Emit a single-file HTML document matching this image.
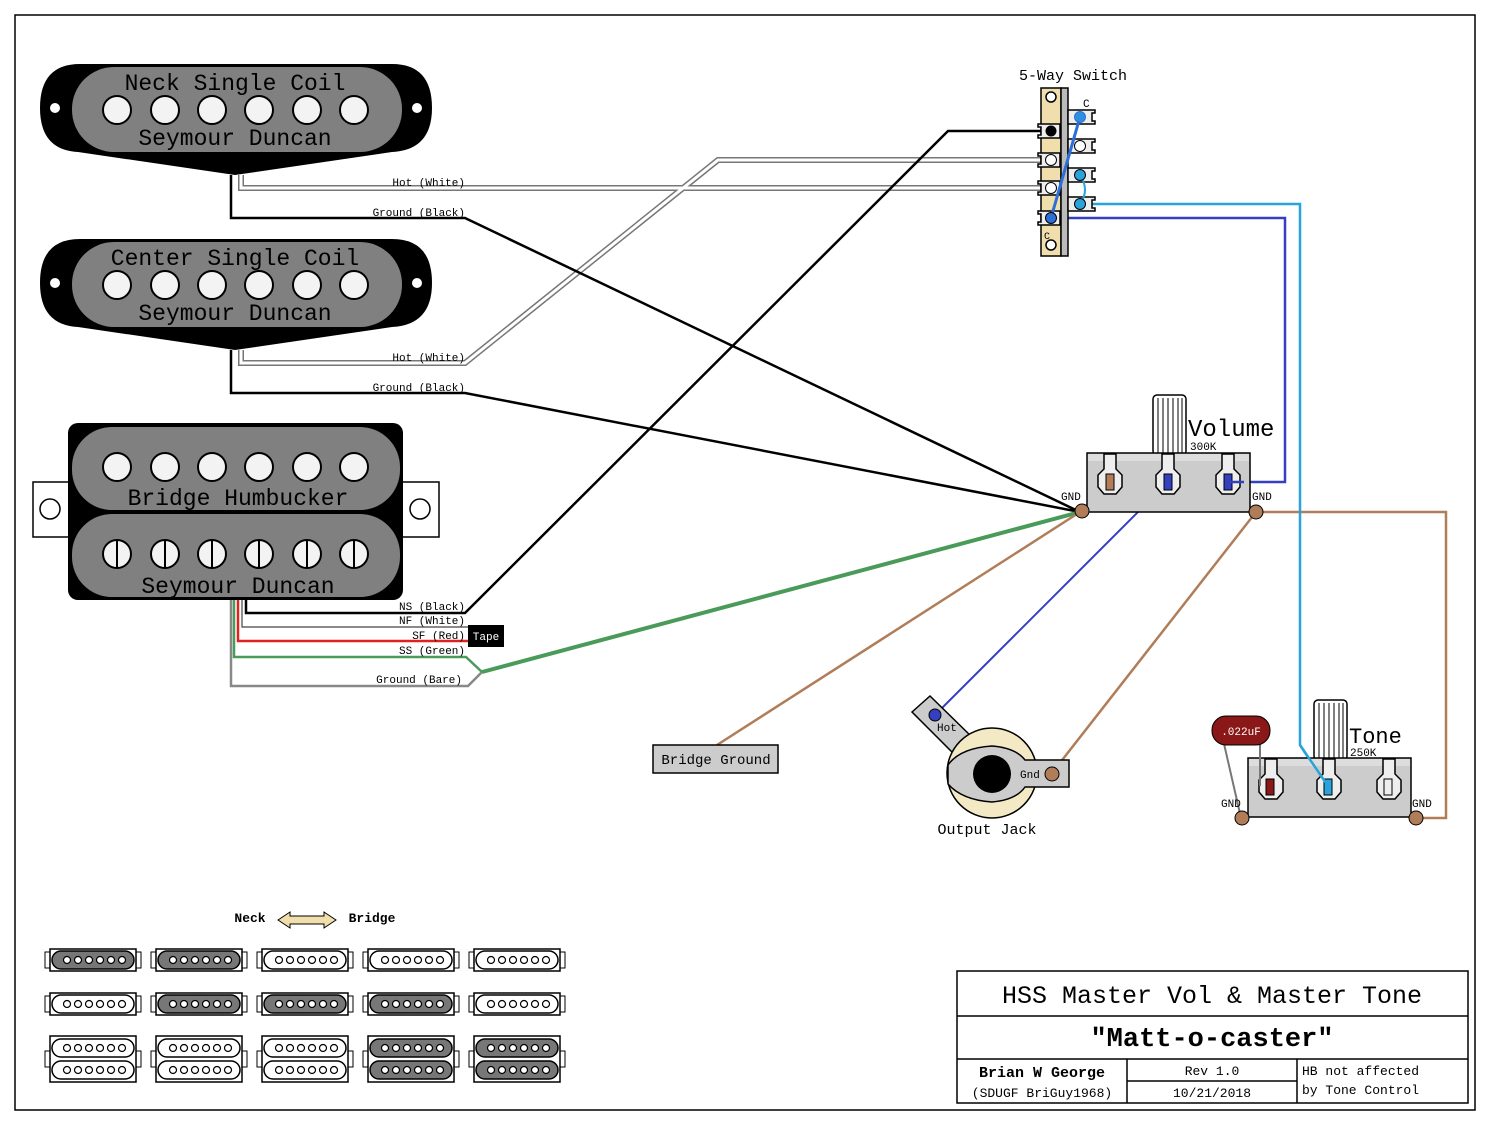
<!DOCTYPE html>
<html><head><meta charset="utf-8"><style>
html,body{margin:0;padding:0;background:#fff}
svg{display:block}
text{font-family:"Liberation Mono","DejaVu Sans Mono",monospace;fill:#000}
</style></head><body>
<svg width="1490" height="1125" viewBox="0 0 1490 1125" xmlns="http://www.w3.org/2000/svg">
<rect x="0" y="0" width="1490" height="1125" fill="#fff"/>
<rect x="15" y="15" width="1460" height="1095" fill="none" stroke="#000" stroke-width="1.5"/>

<!-- Neck single coil -->
<g id="sc1">
<path d="M80,64 L392,64 Q432,64 432,108 Q432,150 392,152 L235,175 L78,152 Q40,150 40,108 Q40,64 80,64 Z" fill="#000"/>
<rect x="72" y="67" width="330" height="85" rx="42" fill="#808080"/>
<circle cx="55" cy="108" r="5" fill="#fff"/><circle cx="417" cy="108" r="5" fill="#fff"/>
<g fill="#f3f3f3" stroke="#000" stroke-width="2">
<circle cx="117" cy="110" r="14"/><circle cx="165" cy="110" r="14"/><circle cx="212" cy="110" r="14"/><circle cx="259" cy="110" r="14"/><circle cx="307" cy="110" r="14"/><circle cx="354" cy="110" r="14"/>
</g>
</g>
<text x="235" y="90" font-size="23" text-anchor="middle">Neck Single Coil</text>
<text x="235" y="145" font-size="23" text-anchor="middle">Seymour Duncan</text>
<use href="#sc1" y="175"/>
<text x="235" y="265" font-size="23" text-anchor="middle">Center Single Coil</text>
<text x="235" y="320" font-size="23" text-anchor="middle">Seymour Duncan</text>

<!-- Humbucker -->
<rect x="33" y="482" width="37" height="55" fill="#fff" stroke="#000" stroke-width="1.5"/>
<circle cx="50" cy="509" r="10" fill="#fff" stroke="#000" stroke-width="1.5"/>
<rect x="402" y="482" width="37" height="55" fill="#fff" stroke="#000" stroke-width="1.5"/>
<circle cx="420" cy="509" r="10" fill="#fff" stroke="#000" stroke-width="1.5"/>
<rect x="68" y="423" width="335" height="177" rx="10" fill="#000"/>
<rect x="72" y="427" width="328" height="83" rx="40" fill="#808080"/>
<rect x="72" y="514" width="328" height="83" rx="40" fill="#808080"/>
<g fill="#f3f3f3" stroke="#000" stroke-width="2">
<circle cx="117" cy="467" r="14"/><circle cx="165" cy="467" r="14"/><circle cx="212" cy="467" r="14"/><circle cx="259" cy="467" r="14"/><circle cx="307" cy="467" r="14"/><circle cx="354" cy="467" r="14"/>
<circle cx="117" cy="554" r="14"/><circle cx="165" cy="554" r="14"/><circle cx="212" cy="554" r="14"/><circle cx="259" cy="554" r="14"/><circle cx="307" cy="554" r="14"/><circle cx="354" cy="554" r="14"/>
</g>
<g stroke="#000" stroke-width="2"><line x1="117" y1="540" x2="117" y2="568"/><line x1="165" y1="540" x2="165" y2="568"/><line x1="212" y1="540" x2="212" y2="568"/><line x1="259" y1="540" x2="259" y2="568"/><line x1="307" y1="540" x2="307" y2="568"/><line x1="354" y1="540" x2="354" y2="568"/></g>
<text x="238" y="505" font-size="23" text-anchor="middle">Bridge Humbucker</text>
<text x="238" y="593" font-size="23" text-anchor="middle">Seymour Duncan</text>

<!-- Wires -->
<g fill="none" stroke-linejoin="miter">
<!-- white wires -->
<g stroke="#777" stroke-width="6">
<polyline points="241,175 241,188 1042,188"/>
<polyline points="241,350 241,363 465,363 718,160 1042,160"/>
</g>
<g stroke="#fff" stroke-width="3">
<polyline points="241,175 241,188 1042,188"/>
<polyline points="241,350 241,363 465,363 718,160 1042,160"/>
</g>
<!-- black grounds -->
<polyline points="231,175 231,218 465,218 1080,512" stroke="#000" stroke-width="2.5"/>
<polyline points="231,350 231,393 465,393 1080,512" stroke="#000" stroke-width="2.5"/>
<polyline points="246,600 246,613 465,613 948,131 1045,131" stroke="#000" stroke-width="2.5"/>
<polyline points="242,600 242,627 468,627" stroke="#444" stroke-width="1.2"/>
<polyline points="238,600 238,641 468,641" stroke="#d22" stroke-width="2.5"/>
<polyline points="234,600 234,657 466,657 482,672 1080,512" stroke="#4a9a5a" stroke-width="2.5"/>
<line x1="482" y1="672" x2="1080" y2="512" stroke="#4a9a5a" stroke-width="4"/>
<polyline points="231,600 231,686 468,686 482,672" stroke="#888" stroke-width="2.5"/>
<!-- brown -->
<g stroke="#b07d58" stroke-width="2.5">
<line x1="1110" y1="484" x2="1080" y2="512"/>
<line x1="1080" y1="512" x2="717" y2="745"/>
<line x1="1256" y1="512" x2="1052" y2="773"/>
<polyline points="1256,512 1446,512 1446,818 1416,818"/>
</g>
<line x1="1168" y1="482" x2="935" y2="715" stroke="#3540c0" stroke-width="2"/>
<polyline points="1051,218 1285,218 1285,482 1228,482" stroke="#3540c0" stroke-width="2.5"/>
<polyline points="1080,204 1300,204 1300,745 1328,788" stroke="#29a3dc" stroke-width="2.5"/>
</g>
<text x="465" y="186" font-size="11" text-anchor="end">Hot (White)</text>
<text x="465" y="216" font-size="11" text-anchor="end">Ground (Black)</text>
<text x="465" y="361" font-size="11" text-anchor="end">Hot (White)</text>
<text x="465" y="391" font-size="11" text-anchor="end">Ground (Black)</text>
<text x="465" y="610" font-size="11" text-anchor="end">NS (Black)</text>
<text x="465" y="624" font-size="11" text-anchor="end">NF (White)</text>
<text x="465" y="639" font-size="11" text-anchor="end">SF (Red)</text>
<text x="465" y="654" font-size="11" text-anchor="end">SS (Green)</text>
<text x="462" y="683" font-size="11" text-anchor="end">Ground (Bare)</text>
<rect x="468" y="625" width="36" height="22" fill="#000"/>
<text x="486" y="640" font-size="11" text-anchor="middle" style="fill:#fff">Tape</text>

<!-- 5-way switch -->
<text x="1073" y="80" font-size="15" text-anchor="middle">5-Way Switch</text>
<rect x="1041" y="88" width="20" height="168" fill="#f0dfad" stroke="#000" stroke-width="1.5"/>
<rect x="1061" y="88" width="7" height="168" fill="#bbb" stroke="#000" stroke-width="1.5"/>
<circle cx="1051" cy="97" r="5" fill="#fff" stroke="#000" stroke-width="1.5"/>
<circle cx="1051" cy="245" r="5" fill="#fff" stroke="#000" stroke-width="1.5"/>
<text x="1044" y="239" font-size="10">C</text>
<text x="1083" y="107" font-size="11">C</text>
<g fill="#eee" stroke="#000" stroke-width="1.5">
<path d="M1038,124 h22 v14 h-22 v-3 h3 v-8 h-3z"/>
<path d="M1038,153 h22 v14 h-22 v-3 h3 v-8 h-3z"/>
<path d="M1038,181 h22 v14 h-22 v-3 h3 v-8 h-3z"/>
<path d="M1038,211 h22 v14 h-22 v-3 h3 v-8 h-3z"/>
<path d="M1068,110 h27 v3 h-3 v8 h3 v3 h-27z"/>
<path d="M1068,139 h27 v3 h-3 v8 h3 v3 h-27z"/>
<path d="M1068,168 h27 v3 h-3 v8 h3 v3 h-27z"/>
<path d="M1068,197 h27 v3 h-3 v8 h3 v3 h-27z"/>
</g>
<circle cx="1051" cy="131" r="5.5" fill="#000"/>
<circle cx="1051" cy="160" r="5.5" fill="#fff" stroke="#000"/>
<circle cx="1051" cy="188" r="5.5" fill="#fff" stroke="#000"/>
<circle cx="1080" cy="146" r="5.5" fill="#fff" stroke="#000"/>
<path d="M1080,175 Q1090,190 1080,204" fill="none" stroke="#29a3dc" stroke-width="2"/>
<circle cx="1080" cy="175" r="5.5" fill="#29a3dc" stroke="#000"/>
<circle cx="1080" cy="204" r="5.5" fill="#29a3dc" stroke="#000"/>
<line x1="1080" y1="117" x2="1051" y2="218" stroke="#2e6fd6" stroke-width="3"/>
<circle cx="1080" cy="117" r="5.5" fill="#2e8fe0" stroke="#2e6fd6"/>
<circle cx="1051" cy="218" r="5.5" fill="#2e6fd6" stroke="#000"/>

<!-- Volume pot -->
<g id="pot">
<rect x="1153" y="395" width="33" height="60" rx="4" fill="#fff" stroke="#000" stroke-width="1.5"/>
<g stroke="#000" stroke-width="1"><line x1="1158" y1="398" x2="1158" y2="455"/><line x1="1163" y1="398" x2="1163" y2="455"/><line x1="1168" y1="398" x2="1168" y2="455"/><line x1="1173" y1="398" x2="1173" y2="455"/><line x1="1178" y1="398" x2="1178" y2="455"/><line x1="1182" y1="398" x2="1182" y2="455"/></g>
<rect x="1087" y="453" width="163" height="59" fill="#ccc" stroke="#000" stroke-width="1.5"/>
<rect x="1088" y="454" width="161" height="7" fill="#ddd"/>
<g fill="#eee" stroke="#000" stroke-width="1.5">
<path d="M1104,454 v15 l-6,6 v12 l6,7 h12 l6,-7 v-12 l-6,-6 v-15z"/>
<path d="M1162,454 v15 l-6,6 v12 l6,7 h12 l6,-7 v-12 l-6,-6 v-15z"/>
<path d="M1222,454 v15 l-6,6 v12 l6,7 h12 l6,-7 v-12 l-6,-6 v-15z"/>
</g>
</g>
<rect x="1106" y="474" width="8" height="16" fill="#b07d58" stroke="#000"/>
<rect x="1164" y="474" width="8" height="16" fill="#3540c0" stroke="#000"/>
<rect x="1224" y="474" width="8" height="16" fill="#3540c0" stroke="#000"/>
<line x1="1228" y1="482" x2="1244" y2="482" stroke="#3540c0" stroke-width="2.5"/>
<text x="1188" y="436" font-size="24">Volume</text>
<text x="1190" y="450" font-size="11">300K</text>
<text x="1061" y="500" font-size="11">GND</text>
<text x="1252" y="500" font-size="11">GND</text>
<circle cx="1082" cy="511" r="7" fill="#b07d58" stroke="#000"/>
<circle cx="1256" cy="512" r="7" fill="#b07d58" stroke="#000"/>

<!-- Tone pot -->
<use href="#pot" x="161" y="305"/>
<rect x="1266" y="779" width="8" height="16" fill="#8b1818" stroke="#000"/>
<rect x="1324" y="779" width="8" height="16" fill="#29a3dc" stroke="#000"/>
<rect x="1384" y="779" width="8" height="16" fill="#eee" stroke="#000"/>
<line x1="1300" y1="745" x2="1328" y2="786" stroke="#29a3dc" stroke-width="2.5"/>
<line x1="1222" y1="735" x2="1241" y2="818" stroke="#777" stroke-width="2"/>
<line x1="1260" y1="735" x2="1260" y2="786" stroke="#777" stroke-width="2"/>
<rect x="1212" y="716" width="58" height="29" rx="14" fill="#8b1818" stroke="#000"/>
<text x="1241" y="735" font-size="11" text-anchor="middle" style="fill:#fff">.022uF</text>
<text x="1349" y="743" font-size="22">Tone</text>
<text x="1350" y="756" font-size="11">250K</text>
<text x="1221" y="807" font-size="11">GND</text>
<text x="1412" y="807" font-size="11">GND</text>
<circle cx="1242" cy="818" r="7" fill="#b07d58" stroke="#000"/>
<circle cx="1416" cy="818" r="7" fill="#b07d58" stroke="#000"/>

<!-- Output jack -->
<path d="M912,712 L930,696 L975,740 L958,758 Z" fill="#ccc" stroke="#000" stroke-width="1.5"/>
<circle cx="992" cy="773" r="45" fill="#f3e9c4" stroke="#000" stroke-width="1.5"/>
<path d="M948,765 Q960,748 992,746 Q1016,748 1025,760 L1069,760 L1069,787 L1025,787 Q1016,800 992,802 Q962,800 948,784 Z" fill="#ccc" stroke="#000" stroke-width="1.5"/>
<circle cx="992" cy="774" r="19" fill="#000"/>
<circle cx="935" cy="715" r="6" fill="#3540c0" stroke="#000"/>
<text x="937" y="731" font-size="11">Hot</text>
<text x="1020" y="778" font-size="11">Gnd</text>
<circle cx="1052" cy="774" r="7" fill="#b07d58" stroke="#000"/>
<text x="987" y="834" font-size="15" text-anchor="middle">Output Jack</text>

<!-- Bridge ground -->
<rect x="653" y="745" width="125" height="28" fill="#ccc" stroke="#000" stroke-width="1.5"/>
<text x="716" y="764" font-size="14" text-anchor="middle">Bridge Ground</text>

<!-- Legend -->
<text x="250" y="922" font-size="13" font-weight="bold" text-anchor="middle">Neck</text>
<path d="M278,920 L290,912 L290,916 L324,916 L324,912 L336,920 L324,928 L324,924 L290,924 L290,928 Z" fill="#f0dfad" stroke="#000"/>
<text x="372" y="922" font-size="13" font-weight="bold" text-anchor="middle">Bridge</text>
<g id="legend"></g>

<!-- Title block -->
<rect x="957" y="971" width="511" height="132" fill="#fff" stroke="#000" stroke-width="1.5"/>
<line x1="957" y1="1016" x2="1468" y2="1016" stroke="#000" stroke-width="1.5"/>
<line x1="957" y1="1059" x2="1468" y2="1059" stroke="#000" stroke-width="1.5"/>
<line x1="1127" y1="1059" x2="1127" y2="1103" stroke="#000" stroke-width="1.5"/>
<line x1="1297" y1="1059" x2="1297" y2="1103" stroke="#000" stroke-width="1.5"/>
<line x1="1127" y1="1081" x2="1297" y2="1081" stroke="#000" stroke-width="1.5"/>
<text x="1212" y="1003" font-size="25" text-anchor="middle">HSS Master Vol &amp; Master Tone</text>
<text x="1212" y="1046" font-size="27" font-weight="bold" text-anchor="middle">"Matt-o-caster"</text>
<text x="1042" y="1077" font-size="15" font-weight="bold" text-anchor="middle">Brian W George</text>
<text x="1042" y="1097" font-size="13" text-anchor="middle">(SDUGF BriGuy1968)</text>
<text x="1212" y="1075" font-size="13" text-anchor="middle">Rev 1.0</text>
<text x="1212" y="1097" font-size="13" text-anchor="middle">10/21/2018</text>
<text x="1302" y="1075" font-size="13">HB not affected</text>
<text x="1302" y="1094" font-size="13">by Tone Control</text>
</svg>
<script>
(function(){
var g=document.getElementById('legend'),ns='http://www.w3.org/2000/svg',s='';
var cols=[45,151,257,363,469];
var r1=['#777','#777','#fff','#fff','#fff'],r2=['#fff','#777','#777','#777','#fff'],r3=['#fff','#fff','#fff','#777','#777'];
function coil(x,y,f){var o='<rect x="'+(x+7)+'" y="'+(y-9)+'" width="82" height="18" rx="9" fill="'+f+'" stroke="#000" stroke-width="1.5"/>';
for(var i=0;i<6;i++)o+='<circle cx="'+(x+22+i*11)+'" cy="'+y+'" r="3.5" fill="#fff" stroke="#000" stroke-width="1.2"/>';return o;}
function tabs(x,y1,y2){var m=(y1+y2)/2;return '<rect x="'+x+'" y="'+(m-8)+'" width="6" height="16" fill="#fff" stroke="#000"/><rect x="'+(x+90)+'" y="'+(m-8)+'" width="6" height="16" fill="#fff" stroke="#000"/>'+
'<rect x="'+(x+5)+'" y="'+y1+'" width="86" height="'+(y2-y1)+'" fill="#fff" stroke="#000" stroke-width="1.5"/>';}
for(var c=0;c<5;c++){var x=cols[c];
s+=tabs(x,949,971)+coil(x,960,r1[c]);
s+=tabs(x,993,1015)+coil(x,1004,r2[c]);
s+=tabs(x,1036,1082)+coil(x,1048,r3[c])+coil(x,1070,r3[c]);}
g.innerHTML=s;})();
</script>
</body></html>
